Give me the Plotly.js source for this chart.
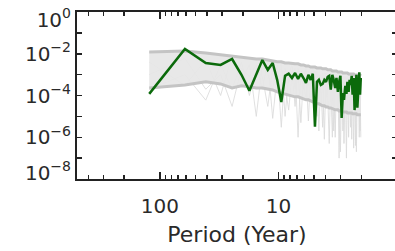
<!DOCTYPE html>
<html>
<head>
<meta charset="utf-8">
<script src="https://cdn.plot.ly/plotly-3.0.1.min.js"></script>
<style>
html, body { margin: 0; padding: 0; overflow: hidden; background: #fff; }
#chart { width: 400px; height: 251px; }
</style>
</head>
<body>
<div id="chart"></div>
<script>
// Periods (years) of the spectral estimates
const periods = [123, 61.5, 41, 30.75, 24.6, 20.5, 17.57, 15.38, 13.67, 12.3,
  11.18, 10.25, 9.46, 8.79, 8.2, 7.69, 7.24, 6.83, 6.47, 6.15,
  5.86, 5.59, 5.35, 5.13, 4.92, 4.73, 4.56, 4.39, 4.24, 4.1,
  3.97, 3.84, 3.73, 3.62, 3.51, 3.42, 3.32, 3.24, 3.15, 3.08,
  3.0, 2.93, 2.86, 2.8, 2.73, 2.67, 2.62, 2.56, 2.51, 2.46,
  2.41, 2.37, 2.32, 2.28, 2.24, 2.2, 2.16, 2.12, 2.08, 2.05,
  2.02];

// Observed spectrum (green)
const observedPower = [1.2e-4, 1.7e-2, 3.6e-3, 2.9e-3, 5.6e-3, 9.8e-4, 1.7e-4, 9.8e-4, 5.0e-3, 1.7e-3,
  3.6e-3, 5.6e-4, 4.9e-5, 8.7e-4, 1.1e-3, 6.9e-4, 1.2e-3, 6.2e-4, 1.1e-3, 6.9e-4,
  4.0e-4, 9.8e-4, 5.6e-4, 1.1e-3, 3.2e-6, 4.5e-4, 5.6e-4, 3.2e-4, 3.6e-4, 5.6e-4,
  4.5e-4, 7.8e-4, 8.7e-4, 1.9e-4, 9.8e-4, 5.6e-4, 2.3e-4, 6.9e-4, 1.5e-4, 4.5e-4,
  8.7e-4, 8.5e-6, 1.3e-4, 6.2e-5, 2.9e-4, 1.2e-4, 4.5e-4, 1.5e-4, 5.6e-4, 3.2e-4,
  8.7e-4, 1.1e-4, 6.9e-4, 2.0e-5, 1.9e-4, 9.8e-4, 2.6e-5, 3.2e-4, 1.3e-3, 1.1e-4,
  6.9e-4];

// Ensemble envelope (upper and lower bounds)
const bandUpper = [1.22e-2, 1.36e-2, 1.09e-2, 8.8e-3, 7.8e-3, 7.0e-3, 6.3e-3, 5.6e-3, 5.6e-3, 5.0e-3,
  4.5e-3, 4.1e-3, 4.1e-3, 3.6e-3, 3.6e-3, 3.3e-3, 3.3e-3, 3.3e-3, 2.9e-3, 2.9e-3,
  2.6e-3, 2.6e-3, 2.3e-3, 2.3e-3, 2.3e-3, 2.1e-3, 2.1e-3, 2.1e-3, 1.9e-3, 1.9e-3,
  1.9e-3, 1.7e-3, 1.7e-3, 1.7e-3, 1.5e-3, 1.5e-3, 1.5e-3, 1.5e-3, 1.35e-3, 1.35e-3,
  1.35e-3, 1.35e-3, 1.2e-3, 1.2e-3, 1.2e-3, 1.2e-3, 1.2e-3, 1.08e-3, 1.08e-3, 1.08e-3,
  1.08e-3, 1.08e-3, 1.08e-3, 9.7e-4, 9.7e-4, 9.7e-4, 9.7e-4, 9.7e-4, 9.7e-4, 9.7e-4,
  8.7e-4];
const bandLower = [2.3e-4, 3.2e-4, 4.5e-4, 3.6e-4, 2.3e-4, 2.9e-4, 2.6e-4, 2.3e-4, 2.3e-4, 2.1e-4,
  1.85e-4, 1.5e-4, 1.33e-4, 1.19e-4, 1.07e-4, 9.6e-5, 8.6e-5, 8.6e-5, 7.7e-5, 6.9e-5,
  6.2e-5, 6.2e-5, 5.5e-5, 4.9e-5, 4.4e-5, 4.0e-5, 4.0e-5, 3.5e-5, 3.2e-5, 3.2e-5,
  2.85e-5, 2.85e-5, 2.55e-5, 2.55e-5, 2.3e-5, 2.3e-5, 2.05e-5, 2.05e-5, 2.05e-5, 1.83e-5,
  1.83e-5, 1.83e-5, 1.64e-5, 1.64e-5, 1.64e-5, 1.64e-5, 1.47e-5, 1.47e-5, 1.47e-5, 1.47e-5,
  1.47e-5, 1.32e-5, 1.32e-5, 1.32e-5, 1.32e-5, 1.32e-5, 1.18e-5, 1.18e-5, 1.18e-5, 1.18e-5,
  1.18e-5];

// A few individual ensemble members (faint grey)
const memberA = [2e-4, 1e-3, 6e-5, 3e-3, 2e-4, 4e-3, 1e-4, 2e-3, 8e-4, 3e-5,
  2e-3, 6e-4, 4e-3, 1e-5, 1e-3, 3e-3, 2e-4, 1.5e-3, 5e-6, 8e-4,
  2e-3, 3e-4, 1e-3, 6e-5, 1.5e-3, 5e-4, 2e-6, 1e-3, 4e-4, 1.2e-3,
  8e-5, 7e-4, 1e-3, 3e-4, 1e-6, 9e-4, 4e-4, 1e-3, 2e-5, 6e-4,
  8e-4, 2e-4, 9e-4, 5e-7, 5e-4, 7e-4, 1e-4, 6e-4, 8e-4, 3e-6,
  5e-4, 7e-4, 2e-4, 6e-4, 4e-7, 5e-4, 6e-4, 8e-5, 5e-4, 2e-6,
  4e-4];
const memberB = [4e-3, 3e-4, 5e-3, 1e-4, 8e-3, 5e-4, 3e-3, 1e-5, 3e-3, 1e-3,
  2e-4, 3e-3, 3e-6, 2e-3, 4e-4, 1.5e-3, 3e-5, 2e-3, 1e-3, 2e-4,
  1.5e-3, 6e-6, 1e-3, 2e-3, 4e-4, 1.5e-3, 1e-4, 8e-4, 1.2e-3, 8e-7,
  1e-3, 3e-4, 8e-4, 1e-3, 5e-5, 8e-4, 1e-6, 7e-4, 9e-4, 3e-4,
  2e-7, 7e-4, 4e-4, 8e-4, 3e-5, 6e-4, 8e-4, 1e-6, 5e-4, 7e-4,
  1.5e-4, 6e-4, 3e-7, 5e-4, 7e-4, 5e-5, 6e-4, 4e-4, 1e-6, 5e-4,
  3e-4];
const memberC = [1e-3, 6e-3, 2e-4, 1e-3, 3e-5, 2e-3, 8e-4, 3e-3, 2e-4, 4e-3,
  8e-6, 1e-3, 2e-3, 3e-4, 2e-5, 1e-3, 2e-3, 1e-6, 1.5e-3, 5e-4,
  6e-5, 1.5e-3, 2e-4, 1e-3, 8e-4, 1e-5, 1e-3, 5e-4, 3e-6, 9e-4,
  1.2e-3, 1e-4, 5e-7, 8e-4, 6e-4, 2e-6, 9e-4, 3e-4, 7e-4, 1e-7,
  6e-4, 9e-4, 2e-6, 4e-4, 8e-4, 1e-7, 6e-4, 3e-4, 2e-5, 6e-4,
  8e-7, 4e-4, 7e-4, 1e-4, 6e-4, 2e-7, 5e-4, 7e-4, 2e-5, 6e-4,
  1e-6];

const xMajorTicks = [100, 10];
const xMinorTicks = [400, 300, 200, 90, 80, 70, 60, 50, 40, 30, 20, 9, 8, 7, 6, 5, 4, 3, 2];
const yDecadeTicks = [1, 1e-1, 1e-2, 1e-3, 1e-4, 1e-5, 1e-6, 1e-7, 1e-8];
// label anchors: end labels are nudged inside the frame, as in the original figure
const yLabelVals = [0.437, 1e-2, 1e-4, 1e-6, 2.04e-8];
const yTickText = ['10<sup>0</sup>', '10<sup>\u22122</sup>', '10<sup>\u22124</sup>', '10<sup>\u22126</sup>', '10<sup>\u22128</sup>'];

const faint = 'rgba(218,218,218,0.85)';
const traces = [
  {x: periods, y: memberA, type: 'scatter', mode: 'lines', line: {color: faint, width: 1}, hoverinfo: 'skip'},
  {x: periods, y: memberB, type: 'scatter', mode: 'lines', line: {color: faint, width: 1}, hoverinfo: 'skip'},
  {x: periods, y: memberC, type: 'scatter', mode: 'lines', line: {color: faint, width: 1}, hoverinfo: 'skip'},
  {x: periods, y: bandLower, type: 'scatter', mode: 'lines', line: {color: 'rgba(0,0,0,0)', width: 0}, hoverinfo: 'skip'},
  {x: periods, y: bandUpper, type: 'scatter', mode: 'lines', fill: 'tonexty', fillcolor: 'rgba(230,230,230,0.92)', line: {color: 'rgba(0,0,0,0)', width: 0}, hoverinfo: 'skip'},
  {x: periods, y: bandLower, type: 'scatter', mode: 'lines', line: {color: '#c4c4c4', width: 3}},
  {x: periods, y: bandUpper, type: 'scatter', mode: 'lines', line: {color: '#c4c4c4', width: 3}},
  // top layer: drawn on the overlaid (identical-range) axis that carries the labels
  {x: periods, y: observedPower, yaxis: 'y2', type: 'scatter', mode: 'lines', line: {color: '#0b6a0b', width: 2.5}}
];

const font = {family: 'DejaVu Sans', size: 20, color: '#2a2a2a'};
const layout = {
  width: 400, height: 251,
  margin: {l: 77, r: 3, t: 12, b: 72},
  paper_bgcolor: '#ffffff', plot_bgcolor: '#ffffff',
  showlegend: false,
  font: font,
  xaxis: {
    type: 'log', range: [2.699, 0],
    showline: true, linecolor: '#222', linewidth: 2, mirror: 'ticks',
    ticks: 'inside', ticklen: 7, tickwidth: 1.5, tickcolor: '#222',
    tickvals: xMajorTicks, ticktext: xMajorTicks.map(String),
    tickfont: font, ticklabelstandoff: 8, ticklabeloverflow: 'allow',
    showgrid: false, zeroline: false,
    minor: {tickvals: xMinorTicks, ticks: 'inside', ticklen: 4, tickwidth: 1.5, tickcolor: '#222', showgrid: false},
    title: {text: 'Period (Year)', font: {family: 'DejaVu Sans', size: 22, color: '#2a2a2a'}, standoff: 10}
  },
  yaxis: {
    type: 'log', range: [-8, 0],
    showline: true, linecolor: '#222', linewidth: 2, mirror: 'ticks',
    ticks: 'inside', ticklen: 5, tickwidth: 1.5, tickcolor: '#222',
    tickvals: yDecadeTicks, showticklabels: false,
    showgrid: false, zeroline: false
  },
  yaxis2: {
    type: 'log', range: [-8, 0], overlaying: 'y', side: 'left',
    showline: false, ticks: '',
    tickvals: yLabelVals, ticktext: yTickText,
    tickfont: font, ticklabelstandoff: 5, ticklabeloverflow: 'allow',
    showgrid: false, zeroline: false
  }
};

Plotly.newPlot('chart', traces, layout, {staticPlot: true, displayModeBar: false});
</script>
</body>
</html>
